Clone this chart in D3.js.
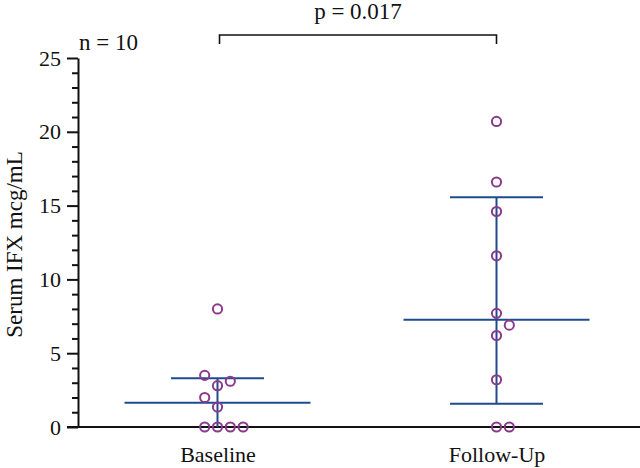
<!DOCTYPE html>
<html>
<head>
<meta charset="utf-8">
<script src="https://cdn.jsdelivr.net/npm/d3@7"></script>
<style>
  body { margin: 0; background: #fff; }
  svg { display: block; }
  text { font-family: "Liberation Serif", "DejaVu Serif", serif; fill: #111; }
</style>
</head>
<body>
<div id="chart"></div>
<script>
// groups and values
const groups = ["Baseline", "Follow-Up"]
const baselineValues = [0, 0, 0, 0, 1.35, 2.0, 2.8, 3.1, 3.5, 8.0]
const followUpValues = [0, 0, 3.2, 6.2, 6.9, 7.7, 11.6, 14.6, 16.6, 20.7]
// side-by-side slot of each point (dodge column), same order as values
const baselineSlots = [-1, 0, 1, 2, 0, -1, 0, 1, -1, 0]
const followUpSlots = [0, 1, 0, 0, 1, 0, 0, 0, 0, 0]
// median with interquartile range
const medians = [1.65, 7.27]
const q1 = [0, 1.58]
const q3 = [3.3, 15.56]
const yTicks = [0, 5, 10, 15, 20, 25]
const yMinorTicks = d3.range(0, 26).filter(v => v % 5 !== 0)
const pLabel = "p = 0.017"
const nLabel = "n = 10"
const yTitle = "Serum IFX mcg/mL"

const width = 640
const height = 468
const blue = "#1f4b8c"
const purple = "#8b3a8b"

const svg = d3.select("#chart")
  .append("svg")
  .attr("width", width)
  .attr("height", height)

const x = d3.scalePoint()
  .domain(groups)
  .range([78, 636])
  .padding(0.5)

const y = d3.scaleLinear()
  .domain([0, 25])
  .range([427, 58])

const slot = d3.scaleLinear().domain([0, 1]).range([0, 12.8])

// y axis, minor then major ticks
svg.append("g")
  .attr("transform", `translate(78,0)`)
  .call(d3.axisLeft(y).tickValues(yMinorTicks).tickSize(6).tickFormat(""))
  .call(g => g.select(".domain").remove())
  .call(g => g.selectAll("line").attr("stroke", "#111").attr("stroke-width", 2))

svg.append("g")
  .attr("transform", `translate(78,0)`)
  .call(d3.axisLeft(y).tickValues(yTicks).tickSize(11).tickSizeOuter(0).tickPadding(6))
  .call(g => g.select(".domain").attr("stroke", "#111").attr("stroke-width", 2))
  .call(g => g.selectAll("line").attr("stroke", "#111").attr("stroke-width", 2))
  .call(g => g.selectAll("text").attr("font-size", 22).attr("font-family", "Liberation Serif, serif").attr("fill", "#111"))

// x axis
svg.append("g")
  .attr("transform", `translate(0,${y(0)})`)
  .call(d3.axisBottom(x).tickSize(0).tickPadding(19))
  .call(g => g.select(".domain").attr("d", `M67,0H${width}`).attr("stroke", "#111").attr("stroke-width", 2))
  .call(g => g.selectAll("text").attr("font-size", 22).attr("font-family", "Liberation Serif, serif").attr("fill", "#111"))

// y title
svg.append("text")
  .attr("transform", `translate(21.5,${(y(0) + y(25)) / 2 + 2}) rotate(-90)`)
  .attr("text-anchor", "middle")
  .attr("font-size", 23)
  .text(yTitle)

// median + IQR
const stats = groups.map((g, i) => ({ g, med: medians[i], lo: q1[i], hi: q3[i] }))
const sg = svg.append("g").attr("stroke", blue).attr("stroke-width", 2).attr("fill", "none")

sg.selectAll(".iqr")
  .data(stats)
  .join("line")
  .attr("x1", d => x(d.g)).attr("x2", d => x(d.g))
  .attr("y1", d => y(d.lo)).attr("y2", d => y(d.hi))

sg.selectAll(".med")
  .data(stats)
  .join("line")
  .attr("x1", d => x(d.g) - 93).attr("x2", d => x(d.g) + 93)
  .attr("y1", d => y(d.med)).attr("y2", d => y(d.med))

sg.selectAll(".capHi")
  .data(stats)
  .join("line")
  .attr("x1", d => x(d.g) - 46.5).attr("x2", d => x(d.g) + 46.5)
  .attr("y1", d => y(d.hi)).attr("y2", d => y(d.hi))

sg.selectAll(".capLo")
  .data(stats.filter(d => d.lo > 0))
  .join("line")
  .attr("x1", d => x(d.g) - 46.5).attr("x2", d => x(d.g) + 46.5)
  .attr("y1", d => y(d.lo)).attr("y2", d => y(d.lo))

// points
const points = [
  ...baselineValues.map((v, i) => ({ g: groups[0], v, s: baselineSlots[i] })),
  ...followUpValues.map((v, i) => ({ g: groups[1], v, s: followUpSlots[i] }))
]

svg.append("g")
  .selectAll("circle")
  .data(points)
  .join("circle")
  .attr("cx", d => x(d.g) + slot(d.s))
  .attr("cy", d => y(d.v))
  .attr("r", 4.6)
  .attr("fill", "none")
  .attr("stroke", purple)
  .attr("stroke-width", 2)

// significance bracket
const bx0 = x(groups[0]) + 2
const bx1 = x(groups[1])
svg.append("path")
  .attr("d", `M${bx0},44V35H${bx1}V44`)
  .attr("fill", "none")
  .attr("stroke", "#111")
  .attr("stroke-width", 1.6)

svg.append("text")
  .attr("x", (bx0 + bx1) / 2)
  .attr("y", 19)
  .attr("text-anchor", "middle")
  .attr("font-size", 23)
  .text(pLabel)

svg.append("text")
  .attr("x", 79)
  .attr("y", 50)
  .attr("font-size", 23)
  .text(nLabel)
</script>
</body>
</html>
